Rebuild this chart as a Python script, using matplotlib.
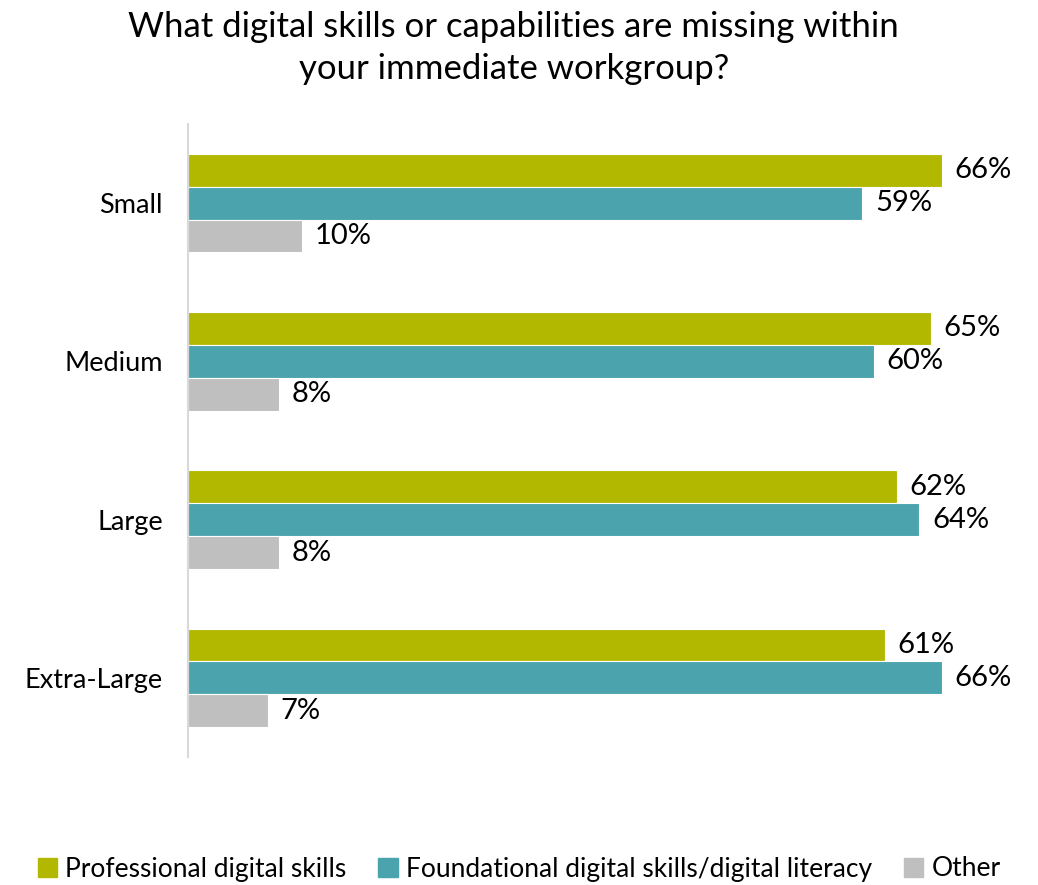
import numpy as np
import matplotlib.pyplot as plt
from matplotlib.patches import Patch

plt.rcParams['font.family'] = ['Lato', 'DejaVu Sans']

categories = ['Small', 'Medium', 'Large', 'Extra-Large']
professional = [66, 65, 62, 61]
foundational = [59, 60, 64, 66]
other = [10, 8, 8, 7]
series_names = ['Professional digital skills',
                'Foundational digital skills/digital literacy', 'Other']
colors = ['#B2B800', '#4BA3AD', '#BFBFBF']

fig = plt.figure(figsize=(10.38, 8.85), dpi=100)
ax = fig.add_axes([188 / 1038, 1 - 757 / 885, 760 / 1038, 633 / 885])

y = np.arange(len(categories))
h = 0.208
for i, (vals, col) in enumerate(zip([professional, foundational, other], colors)):
    pos = y + (i - 1) * h
    ax.barh(pos, vals, height=h, color=col, edgecolor='white', linewidth=0.8)
    for p, v in zip(pos, vals):
        ax.text(v + 1.1, p, f'{v}%', va='center', ha='left', fontsize=21)

ax.set_ylim(len(categories) - 0.5, -0.5)
ax.set_xlim(0, 66.5)
ax.set_yticks(y)
ax.set_yticklabels(categories, fontsize=19.5)
ax.tick_params(axis='y', length=0, pad=18)
ax.set_xticks([])
for s in ['top', 'right', 'bottom']:
    ax.spines[s].set_visible(False)
ax.spines['left'].set_color('#D9D9D9')
ax.spines['left'].set_linewidth(1.5)

fig.text(0.495, 1 - 48 / 885, 'What digital skills or capabilities are missing within\nyour immediate workgroup?',
         ha='center', va='center', fontsize=25, linespacing=1.38)

handles = [Patch(color=c) for c in colors]
fig.legend(handles, series_names, loc='center', bbox_to_anchor=(0.5, 1 - 869 / 885),
           ncol=3, frameon=False, fontsize=19, handlelength=0.75, handleheight=0.75,
           handletextpad=0.3, columnspacing=1.2)

fig.savefig('out.png', dpi=100)
